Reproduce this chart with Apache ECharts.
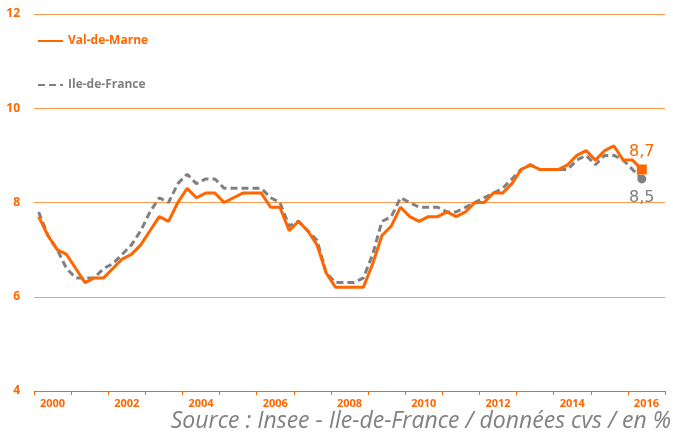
<!DOCTYPE html>
<html>
<head>
<meta charset="utf-8">
<script src="https://cdn.jsdelivr.net/npm/echarts@6/dist/echarts.min.js"></script>
<style>
  html, body { margin: 0; padding: 0; background: #fff; }
  #chart { width: 673px; height: 434px; }
</style>
</head>
<body>
<div id="chart"></div>
<script>
// years shown on the axis, one band per year
const years = ['2000', '2001', '2002', '2003', '2004', '2005', '2006', '2007', '2008',
  '2009', '2010', '2011', '2012', '2013', '2014', '2015', '2016'];

// quarterly categories (4 per year) used to place the points
const quarters = [];
years.forEach(y => { for (let q = 1; q <= 4; q++) quarters.push(y + 'T' + q); });

// unemployment rate, quarterly, 2000T1 -> 2016T2
const valDeMarne = [
  7.7, 7.3, 7.0, 6.9, 6.6, 6.3, 6.4, 6.4, 6.6, 6.8, 6.9, 7.1,
  7.4, 7.7, 7.6, 8.0, 8.3, 8.1, 8.2, 8.2, 8.0, 8.1, 8.2, 8.2,
  8.2, 7.9, 7.9, 7.4, 7.6, 7.4, 7.1, 6.5, 6.2, 6.2, 6.2, 6.2,
  6.7, 7.3, 7.5, 7.9, 7.7, 7.6, 7.7, 7.7, 7.8, 7.7, 7.8, 8.0,
  8.0, 8.2, 8.2, 8.4, 8.7, 8.8, 8.7, 8.7, 8.7, 8.8, 9.0, 9.1,
  8.9, 9.1, 9.2, 8.9, 8.9, 8.7
];
const ileDeFrance = [
  7.8, 7.3, 7.0, 6.6, 6.4, 6.4, 6.4, 6.6, 6.7, 6.9, 7.1, 7.4,
  7.8, 8.1, 8.0, 8.4, 8.6, 8.4, 8.5, 8.5, 8.3, 8.3, 8.3, 8.3,
  8.3, 8.1, 8.0, 7.5, 7.6, 7.4, 7.2, 6.5, 6.3, 6.3, 6.3, 6.4,
  6.9, 7.6, 7.7, 8.1, 8.0, 7.9, 7.9, 7.9, 7.8, 7.8, 7.9, 8.0,
  8.1, 8.2, 8.3, 8.5, 8.7, 8.8, 8.7, 8.7, 8.7, 8.7, 8.9, 9.0,
  8.8, 9.0, 9.0, 8.9, 8.7, 8.5
];

const ORANGE = '#FF6600';
const GREY = '#808080';
const FONT = '"Open Sans", "DejaVu Sans", sans-serif';

const last = valDeMarne.length - 1;
const fmt = p => p.value[1].toFixed(1).replace('.', ',');

const chart = echarts.init(document.getElementById('chart'), null, { renderer: 'canvas' });

chart.setOption({
  animation: false,
  textStyle: { fontFamily: FONT },
  grid: { left: 34, right: 8, top: 14, bottom: 43 },
  title: {
    text: 'Source : Insee - Ile-de-France / données cvs / en %',
    right: 2,
    top: 410,
    padding: 0,
    textStyle: { color: GREY, fontStyle: 'italic', fontWeight: 'normal', fontSize: 23, fontFamily: FONT }
  },
  legend: {
    orient: 'vertical',
    left: 37,
    top: 35,
    padding: 0,
    itemWidth: 25,
    itemHeight: 14,
    itemGap: 32,
    itemStyle: { opacity: 0 },
    textStyle: { fontSize: 12, fontWeight: 'bold', fontFamily: FONT },
    data: [
      { name: 'Val-de-Marne', textStyle: { color: ORANGE } },
      { name: 'Ile-de-France', textStyle: { color: GREY } }
    ]
  },
  xAxis: [
    {
      type: 'category',
      data: years,
      boundaryGap: true,
      axisLine: { lineStyle: { color: ORANGE, width: 1 } },
      axisTick: { show: true, interval: 0, length: 4, lineStyle: { color: ORANGE } },
      axisLabel: { interval: 1, color: ORANGE, fontWeight: 'bold', fontSize: 11, margin: 7 },
      splitLine: { show: false }
    },
    {
      type: 'category',
      data: quarters,
      boundaryGap: true,
      show: false
    }
  ],
  yAxis: {
    type: 'value',
    min: 4,
    max: 12,
    interval: 2,
    axisLine: { show: false },
    axisTick: { show: false },
    axisLabel: { color: ORANGE, fontWeight: 'bold', fontSize: 12, margin: 14 },
    splitLine: { lineStyle: { color: '#FF9A52', width: 1 } }
  },
  series: [
    {
      name: 'Ile-de-France',
      type: 'line',
      xAxisIndex: 1,
      data: ileDeFrance,
      symbol: 'none',
      lineStyle: { color: GREY, width: 3, type: [7, 4] },
      itemStyle: { color: GREY },
      z: 2
    },
    {
      name: 'Val-de-Marne',
      type: 'line',
      xAxisIndex: 1,
      data: valDeMarne,
      symbol: 'none',
      lineStyle: { color: ORANGE, width: 3 },
      itemStyle: { color: ORANGE },
      z: 3
    },
    {
      name: 'fin-idf',
      type: 'scatter',
      xAxisIndex: 1,
      data: [[last, ileDeFrance[last]]],
      symbol: 'circle',
      symbolSize: 9,
      itemStyle: { color: GREY, opacity: 1 },
      label: { show: true, position: 'bottom', distance: 6, formatter: fmt, color: GREY, fontSize: 16, fontFamily: 'DejaVu Sans' },
      z: 4
    },
    {
      name: 'fin-vdm',
      type: 'scatter',
      xAxisIndex: 1,
      data: [[last, valDeMarne[last]]],
      symbol: 'rect',
      symbolSize: 10,
      itemStyle: { color: ORANGE, opacity: 1 },
      label: { show: true, position: 'top', distance: 5, formatter: fmt, color: ORANGE, fontSize: 16, fontFamily: 'DejaVu Sans' },
      z: 5
    }
  ]
});
</script>
</body>
</html>
